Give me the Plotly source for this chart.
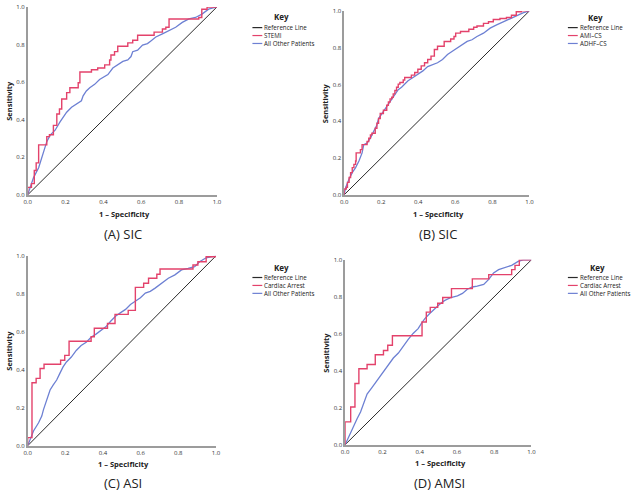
import plotly.graph_objects as go

# ---------------------------------------------------------------------------
# Data
ticks = [0.0, 0.2, 0.4, 0.6, 0.8, 1.0]
panel_titles = ["(A) SIC", "(B) SIC", "(C) ASI", "(D) AMSI"]
key_labels = [
    ["Reference Line", "STEMI", "All Other Patients"],
    ["Reference Line", "AMI\u2013CS", "ADHF\u2013CS"],
    ["Reference Line", "Cardiac Arrest", "All Other Patients"],
    ["Reference Line", "Cardiac Arrest", "All Other Patients"],
]
ref_x = [0, 1]
ref_y = [0, 1]

# (A) SIC
a_red_x = [0, 0, 0.02, 0.035, 0.045, 0.058, 0.101, 0.115, 0.136, 0.154, 0.168, 0.18, 0.206, 0.223,
           0.267, 0.276, 0.337, 0.37, 0.407, 0.433, 0.44, 0.459, 0.476, 0.529, 0.555, 0.581, 0.668,
           0.712, 0.73, 0.747, 0.904, 0.92, 0.948, 1.0]
a_red_y = [0, 0.04, 0.06, 0.13, 0.17, 0.266, 0.31, 0.32, 0.37, 0.43, 0.457, 0.51, 0.544, 0.57,
           0.597, 0.654, 0.666, 0.675, 0.692, 0.718, 0.744, 0.762, 0.791, 0.809, 0.823, 0.849, 0.866,
           0.883, 0.892, 0.936, 0.944, 0.988, 1.0, 1.0]
a_blue_x = [0, 0.014, 0.031, 0.058, 0.075, 0.092, 0.101, 0.119, 0.145, 0.171, 0.188, 0.206, 0.232,
            0.258, 0.284, 0.293, 0.31, 0.328, 0.354, 0.38, 0.398, 0.424, 0.45, 0.476, 0.503, 0.529,
            0.546, 0.555, 0.581, 0.607, 0.633, 0.651, 0.677, 0.712, 0.747, 0.782, 0.817, 0.852,
            0.887, 0.921, 0.956, 1.0]
a_blue_y = [0, 0.04, 0.092, 0.144, 0.197, 0.249, 0.283, 0.318, 0.344, 0.388, 0.414, 0.44, 0.466,
            0.483, 0.501, 0.527, 0.553, 0.57, 0.588, 0.614, 0.623, 0.64, 0.675, 0.692, 0.71, 0.718,
            0.736, 0.762, 0.77, 0.797, 0.805, 0.819, 0.84, 0.857, 0.875, 0.892, 0.918, 0.936,
            0.944, 0.962, 0.988, 1.0]

# (B) SIC
b_red_x = [0, 0, 0.012, 0.018, 0.027, 0.035, 0.044, 0.053, 0.062, 0.065, 0.088, 0.097, 0.124, 0.133,
           0.142, 0.150, 0.168, 0.177, 0.186, 0.195, 0.212, 0.230, 0.239, 0.248, 0.257, 0.265, 0.274,
           0.283, 0.292, 0.301, 0.319, 0.327, 0.363, 0.381, 0.398, 0.416, 0.434, 0.451, 0.469, 0.487,
           0.504, 0.540, 0.575, 0.593, 0.602, 0.628, 0.673, 0.699, 0.717, 0.752, 0.779, 0.805, 0.841,
           0.876, 0.903, 0.929, 0.956, 1.0]
b_red_y = [0, 0.032, 0.041, 0.068, 0.094, 0.121, 0.148, 0.166, 0.184, 0.228, 0.246, 0.273, 0.290,
           0.308, 0.326, 0.335, 0.362, 0.389, 0.415, 0.442, 0.460, 0.487, 0.505, 0.522, 0.531, 0.549,
           0.567, 0.585, 0.602, 0.611, 0.624, 0.638, 0.651, 0.665, 0.683, 0.701, 0.718, 0.736, 0.754,
           0.790, 0.808, 0.834, 0.847, 0.861, 0.879, 0.888, 0.900, 0.911, 0.918, 0.932, 0.941, 0.953,
           0.959, 0.964, 0.976, 0.995, 1.0, 1.0]
b_blue_x = [0, 0.009, 0.027, 0.044, 0.062, 0.080, 0.097, 0.106, 0.124, 0.142, 0.159, 0.177, 0.186,
            0.204, 0.221, 0.239, 0.257, 0.274, 0.292, 0.310, 0.327, 0.345, 0.372, 0.398, 0.425, 0.451,
            0.478, 0.504, 0.531, 0.558, 0.584, 0.611, 0.637, 0.664, 0.690, 0.717, 0.752, 0.788, 0.823,
            0.858, 0.894, 0.929, 0.965, 1.0]
b_blue_y = [0, 0.041, 0.086, 0.121, 0.148, 0.184, 0.228, 0.273, 0.282, 0.308, 0.344, 0.380, 0.415,
            0.442, 0.469, 0.496, 0.522, 0.549, 0.572, 0.585, 0.602, 0.620, 0.638, 0.656, 0.674, 0.697,
            0.709, 0.718, 0.736, 0.763, 0.781, 0.799, 0.816, 0.834, 0.843, 0.861, 0.879, 0.906, 0.924,
            0.941, 0.959, 0.976, 0.989, 1.0]

# (C) ASI
c_red_x = [0, 0, 0.023, 0.045, 0.066, 0.087, 0.175, 0.197, 0.220, 0.337, 0.354, 0.424, 0.464, 0.534,
           0.572, 0.616, 0.642, 0.686, 0.703, 0.878, 0.904, 0.948, 1.0]
c_red_y = [0, 0.043, 0.332, 0.355, 0.407, 0.429, 0.450, 0.476, 0.550, 0.574, 0.619, 0.644, 0.692,
           0.713, 0.834, 0.856, 0.882, 0.903, 0.931, 0.952, 0.969, 0.995, 1.0]
c_blue_x = [0, 0.014, 0.031, 0.058, 0.075, 0.084, 0.101, 0.119, 0.136, 0.154, 0.171, 0.188, 0.206,
            0.232, 0.258, 0.284, 0.311, 0.337, 0.363, 0.389, 0.415, 0.442, 0.468, 0.494, 0.520, 0.546,
            0.572, 0.599, 0.625, 0.651, 0.677, 0.712, 0.747, 0.782, 0.817, 0.852, 0.887, 0.913, 0.948,
            1.0]
c_blue_y = [0, 0.035, 0.078, 0.121, 0.156, 0.190, 0.242, 0.294, 0.320, 0.346, 0.381, 0.415, 0.441,
            0.467, 0.502, 0.528, 0.545, 0.571, 0.588, 0.606, 0.626, 0.657, 0.683, 0.701, 0.718, 0.744,
            0.761, 0.779, 0.804, 0.813, 0.830, 0.856, 0.882, 0.900, 0.926, 0.934, 0.943, 0.969, 0.990,
            1.0]

# (D) AMSI
d_red_x = [0, 0, 0.030, 0.053, 0.074, 0.118, 0.162, 0.206, 0.229, 0.254, 0.413, 0.436, 0.457, 0.497,
           0.524, 0.571, 0.683, 0.771, 0.894, 0.912, 0.935, 1.0]
d_red_y = [0, 0.124, 0.204, 0.331, 0.411, 0.434, 0.487, 0.510, 0.538, 0.589, 0.664, 0.717, 0.743,
           0.765, 0.796, 0.844, 0.897, 0.920, 0.947, 0.970, 1.0, 1.0]
d_blue_x = [0, 0.012, 0.030, 0.048, 0.065, 0.083, 0.101, 0.118, 0.145, 0.171, 0.189, 0.206, 0.233,
            0.259, 0.286, 0.303, 0.321, 0.339, 0.365, 0.392, 0.409, 0.427, 0.453, 0.480, 0.506, 0.533,
            0.568, 0.603, 0.630, 0.656, 0.683, 0.709, 0.744, 0.771, 0.797, 0.824, 0.859, 0.894, 0.929,
            0.956, 1.0]
d_blue_y = [0, 0.027, 0.071, 0.106, 0.142, 0.177, 0.230, 0.274, 0.310, 0.345, 0.372, 0.398, 0.434,
            0.469, 0.496, 0.522, 0.549, 0.570, 0.602, 0.628, 0.655, 0.681, 0.708, 0.735, 0.758, 0.779,
            0.796, 0.805, 0.818, 0.841, 0.853, 0.858, 0.867, 0.894, 0.929, 0.947, 0.959, 0.970, 0.991,
            1.0, 1.0]

curves = [
    (a_red_x, a_red_y, a_blue_x, a_blue_y),
    (b_red_x, b_red_y, b_blue_x, b_blue_y),
    (c_red_x, c_red_y, c_blue_x, c_blue_y),
    (d_red_x, d_red_y, d_blue_x, d_blue_y),
]

# ---------------------------------------------------------------------------
# Layout helpers (pixel positions -> paper fractions)
W, H = 634, 495
def px(x):
    return x / W
def py(y):
    return 1 - y / H

RED = "#E3426B"
BLUE = "#6D80D3"
BLACK = "#2a2a2a"
AXIS = "#9c9c9c"
FONT = "Open Sans"

# plot boxes in pixels: left, right, top, bottom
boxes = [(24, 216, 3, 194), (345, 533, 7, 194), (24, 215, 256, 449), (346, 535, 260, 448)]
# key: line start x, first entry y, title centre x, title y
keys = [(252, 24, 282, 13), (572, 24, 600, 14), (252, 278, 282, 268), (572, 278, 602, 268)]
KEY_FS = 6.2
KEY_STEP = KEY_FS * 1.3

fig = go.Figure()
annotations = []
shapes = []

for i, (rx, ry, bx, by) in enumerate(curves):
    n = "" if i == 0 else str(i + 1)
    xa, ya = "x" + n, "y" + n
    fig.add_trace(go.Scatter(x=ref_x, y=ref_y, mode="lines", line=dict(color=BLACK, width=1),
                             xaxis=xa, yaxis=ya, showlegend=False, hoverinfo="skip"))
    fig.add_trace(go.Scatter(x=bx, y=by, mode="lines", line=dict(color=BLUE, width=1.3),
                             xaxis=xa, yaxis=ya, showlegend=False))
    fig.add_trace(go.Scatter(x=rx, y=ry, mode="lines", line=dict(color=RED, width=1.4, shape="hv"),
                             xaxis=xa, yaxis=ya, showlegend=False))

    l, r, t, b = boxes[i]
    axis_common = dict(range=[0, 1], tickvals=ticks, tickformat=".1f", showgrid=False, zeroline=False,
                       showline=True, linecolor=AXIS, linewidth=1.5, ticks="",
                       tickfont=dict(family=FONT, size=6, color="#333"), fixedrange=True)
    fig.update_layout(**{
        "xaxis" + n: dict(domain=[px(l), px(r)], anchor=ya, **axis_common),
        "yaxis" + n: dict(domain=[py(b), py(t)], anchor=xa, **axis_common),
    })

    cx = (l + r) / 2
    # axis titles
    annotations.append(dict(x=px(cx + 2), y=py(b + 19), text="<b>1 \u2013 Specificity</b>",
                            font=dict(family=FONT, size=7.5, color="#222")))
    annotations.append(dict(x=px(l - 19), y=py((t + b) / 2), text="<b>Sensitivity</b>", textangle=-90,
                            font=dict(family=FONT, size=7.5, color="#222")))
    # panel label
    annotations.append(dict(x=px(cx + 1), y=py(min(b + 40, 487)), text=panel_titles[i], borderpad=0,
                            font=dict(family=FONT, size=13, color="#222")))

    # key block: title, three sample lines, one multi-line text
    kx, ky, tx, tyy = keys[i]
    annotations.append(dict(x=px(tx), y=py(tyy), text="<b>Key</b>",
                            font=dict(family=FONT, size=8, color="#222")))
    for j, col in enumerate([BLACK, RED, BLUE]):
        yy = ky + j * KEY_STEP
        shapes.append(dict(type="line", xref="paper", yref="paper", x0=px(kx), x1=px(kx + 10),
                           y0=py(yy), y1=py(yy), line=dict(color=col, width=1.2)))
    annotations.append(dict(x=px(kx + 11), y=py(ky + KEY_STEP), text="<br>".join(key_labels[i]),
                            xanchor="left", align="left", borderpad=0,
                            font=dict(family=FONT, size=KEY_FS, color="#222")))

for a in annotations:
    a.update(xref="paper", yref="paper", showarrow=False)
    a.setdefault("xanchor", "center")
    a.setdefault("yanchor", "middle")

fig.update_layout(
    width=W, height=H,
    margin=dict(l=0, r=0, t=0, b=0),
    paper_bgcolor="white", plot_bgcolor="white",
    annotations=annotations, shapes=shapes,
    showlegend=False,
)

# page body has a default 8px margin; drop it so the figure fills the window
fig.write_html("out.html", config={"displayModeBar": False},
               post_script="document.body.style.margin='0';")
